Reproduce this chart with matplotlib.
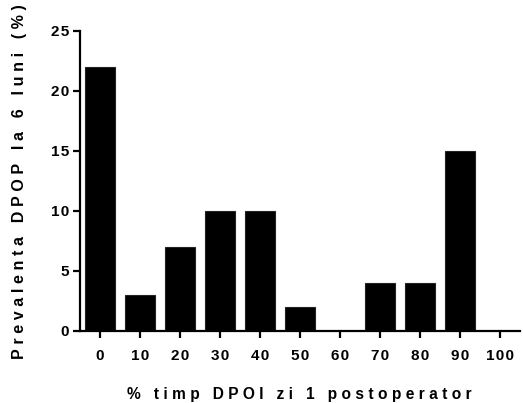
import matplotlib
matplotlib.use("Agg")
import matplotlib.pyplot as plt

# prevalence at 6 months by % time with pain on postoperative day 1
categories = ["0", "10", "20", "30", "40", "50", "60", "70", "80", "90", "100"]
prevalence = [22, 3, 7, 10, 10, 2, 0, 4, 4, 15, 0]
y_ticks = [0, 5, 10, 15, 20, 25]

xlabel = "% timp DPOI zi 1 postoperator"
ylabel = "Prevalenta DPOP la 6 luni (%)"


def spaced(s, gap="\u200a"):
    # wide letter spacing like the original software output
    return gap.join(s)


plt.rcParams['font.family'] = ['Liberation Sans', 'DejaVu Sans']
plt.rcParams['font.weight'] = 'bold'

fig = plt.figure(figsize=(5.23, 4.03), dpi=100)
ax = fig.add_axes([80 / 523, 72 / 403, 440 / 523, 300 / 403])

x = list(range(len(categories)))
ax.bar(x, prevalence, width=0.75, color="black", edgecolor="#222222", linewidth=0.8)

ax.set_xlim(-0.5, 10.5)
ax.set_ylim(0, 25)
ax.set_xticks(x)
ax.set_xticklabels([spaced(c) for c in categories], fontsize=11, fontweight="bold")
ax.set_yticks(y_ticks)
ax.set_yticklabels([spaced(str(t)) for t in y_ticks], fontsize=11, fontweight="bold")

for side in ["top", "right"]:
    ax.spines[side].set_visible(False)
for side in ["left", "bottom"]:
    ax.spines[side].set_linewidth(1.6)
ax.tick_params(axis="both", length=5, width=1.6, color="black")
ax.tick_params(axis="x", pad=8)
ax.tick_params(axis="y", pad=3)

gap = "\u2009\u200a"
ax.set_xlabel(spaced(xlabel, gap), fontsize=11.2, fontweight="bold")
ax.set_ylabel(spaced(ylabel, gap), fontsize=11.5, fontweight="bold")
ax.xaxis.set_label_coords(0.498, -0.185)
ax.yaxis.set_label_coords(-0.12, 0.497)

fig.savefig("out.png", dpi=100)
